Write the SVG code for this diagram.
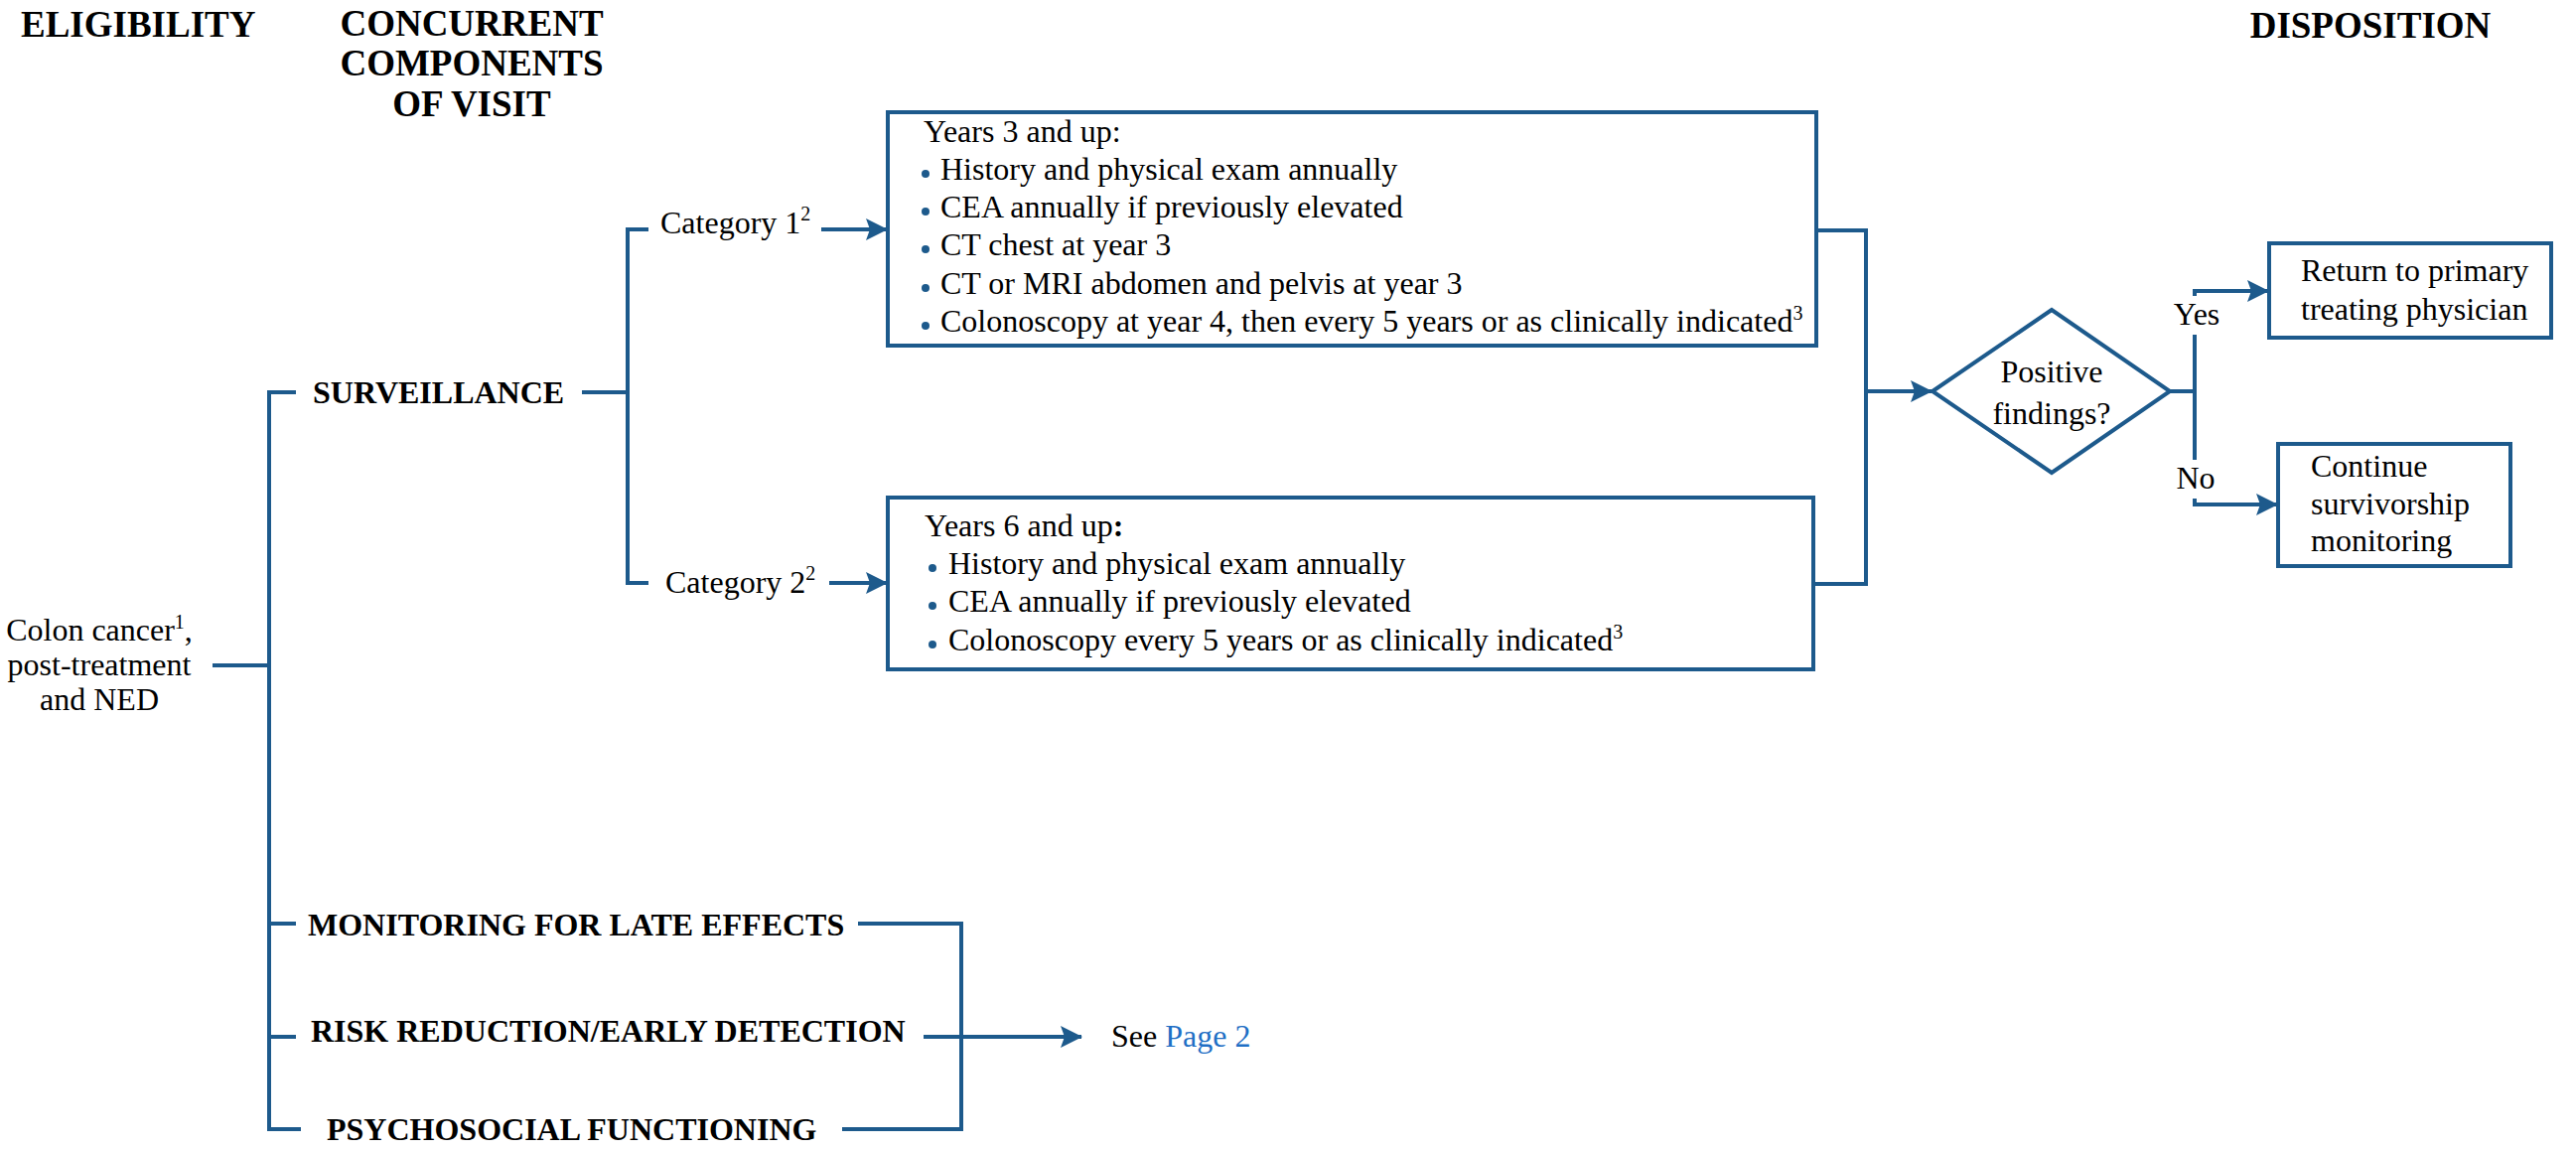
<svg xmlns="http://www.w3.org/2000/svg" width="2594" height="1159" viewBox="0 0 2594 1159">
<style>
text{font-family:"Liberation Serif","Times New Roman",serif;font-size:32px;fill:#000}
.h{font-weight:bold;font-size:37px}
.b{font-weight:bold}
.sup{font-size:20px}
.link{fill:#1f6fc5}
.ln{fill:none;stroke:#1d5a8c;stroke-width:4}
.box{fill:#fff;stroke:#1d5a8c;stroke-width:4}
.dot{fill:#1d5a8c}
</style>
<defs>
<marker id="ah" viewBox="0 0 22 22" refX="21" refY="11" markerWidth="22" markerHeight="22" markerUnits="userSpaceOnUse" orient="auto">
<path d="M0,0 L22,11 L0,22 L4,11 Z" fill="#1d5a8c"/>
</marker>
</defs>
<rect x="0" y="0" width="2594" height="1159" fill="#fff"/>

<g id="headers">
<text class="h" x="21" y="37">ELIGIBILITY</text>
<text class="h" x="475" y="36" text-anchor="middle">CONCURRENT</text>
<text class="h" x="475" y="76" text-anchor="middle">COMPONENTS</text>
<text class="h" x="475" y="117" text-anchor="middle">OF VISIT</text>
<text class="h" x="2387" y="38" text-anchor="middle">DISPOSITION</text>
</g>

<g id="connectors">
<path class="ln" d="M214,670 H271"/>
<path class="ln" d="M298,395 H271 V1137 H303"/>
<path class="ln" d="M271,930 H298"/>
<path class="ln" d="M271,1044 H298"/>
<path class="ln" d="M586,395 H632"/>
<path class="ln" d="M653,231 H632 V587 H653"/>
<path class="ln" d="M827,231 H893" marker-end="url(#ah)"/>
<path class="ln" d="M835,587 H893" marker-end="url(#ah)"/>
<path class="ln" d="M1829,232 H1879 V588 H1826"/>
<path class="ln" d="M1879,394 H1945" marker-end="url(#ah)"/>
<path class="ln" d="M2185,394 H2210"/>
<path class="ln" d="M2210,298 V293 H2284" marker-end="url(#ah)"/>
<path class="ln" d="M2210,337 V463"/>
<path class="ln" d="M2210,502 V508 H2293" marker-end="url(#ah)"/>
<path class="ln" d="M864,930 H968 V1137 H848"/>
<path class="ln" d="M930,1044 H1089" marker-end="url(#ah)"/>
</g>

<g id="eligibility">
<text x="100" y="645" text-anchor="middle">Colon cancer<tspan class="sup" dy="-12">1</tspan><tspan dy="12">,</tspan></text>
<text x="100" y="680" text-anchor="middle">post-treatment</text>
<text x="100" y="715" text-anchor="middle">and NED</text>
</g>

<g id="surveillance">
<text class="b" x="315" y="406">SURVEILLANCE</text>
</g>

<g id="category1">
<text x="665" y="235">Category 1<tspan class="sup" dy="-13">2</tspan></text>
</g>

<g id="category2">
<text x="670" y="597">Category 2<tspan class="sup" dy="-13">2</tspan></text>
</g>

<g id="box1">
<rect class="box" x="894" y="113" width="935" height="235"/>
<text x="930" y="143">Years 3 and up:</text>
<circle class="dot" cx="932" cy="175" r="4"/>
<text x="947" y="181">History and physical exam annually</text>
<circle class="dot" cx="932" cy="213" r="4"/>
<text x="947" y="219">CEA annually if previously elevated</text>
<circle class="dot" cx="932" cy="251" r="4"/>
<text x="947" y="257">CT chest at year 3</text>
<circle class="dot" cx="932" cy="290" r="4"/>
<text x="947" y="296">CT or MRI abdomen and pelvis at year 3</text>
<circle class="dot" cx="932" cy="328" r="4"/>
<text x="947" y="334">Colonoscopy at year 4, then every 5 years or as clinically indicated<tspan class="sup" dy="-12">3</tspan></text>
</g>

<g id="box2">
<rect class="box" x="894" y="501" width="932" height="173"/>
<text x="931" y="540">Years 6 and up<tspan class="b">:</tspan></text>
<circle class="dot" cx="939" cy="572" r="4"/>
<text x="955" y="578">History and physical exam annually</text>
<circle class="dot" cx="939" cy="610" r="4"/>
<text x="955" y="616">CEA annually if previously elevated</text>
<circle class="dot" cx="939" cy="649" r="4"/>
<text x="955" y="655">Colonoscopy every 5 years or as clinically indicated<tspan class="sup" dy="-12">3</tspan></text>
</g>

<g id="decision">
<polygon class="box" points="1946,394 2066,312 2185,394 2066,476"/>
<text x="2066" y="385" text-anchor="middle">Positive</text>
<text x="2066" y="427" text-anchor="middle">findings?</text>
</g>

<g id="labels">
<text x="2212" y="327" text-anchor="middle">Yes</text>
<text x="2211" y="492" text-anchor="middle">No</text>
</g>

<g id="return">
<rect class="box" x="2285" y="245" width="284" height="95"/>
<text x="2317" y="283">Return to primary</text>
<text x="2317" y="322">treating physician</text>
</g>

<g id="continue">
<rect class="box" x="2294" y="447" width="234" height="123"/>
<text x="2327" y="480">Continue</text>
<text x="2327" y="518">survivorship</text>
<text x="2327" y="555">monitoring</text>
</g>

<g id="late-effects">
<text class="b" x="310" y="942">MONITORING FOR LATE EFFECTS</text>
</g>
<g id="risk-reduction">
<text class="b" x="313" y="1049">RISK REDUCTION/EARLY DETECTION</text>
</g>
<g id="psychosocial">
<text class="b" x="329" y="1148">PSYCHOSOCIAL FUNCTIONING</text>
</g>
<g id="see-page2">
<text x="1119" y="1054">See <tspan class="link">Page 2</tspan></text>
</g>
</svg>
